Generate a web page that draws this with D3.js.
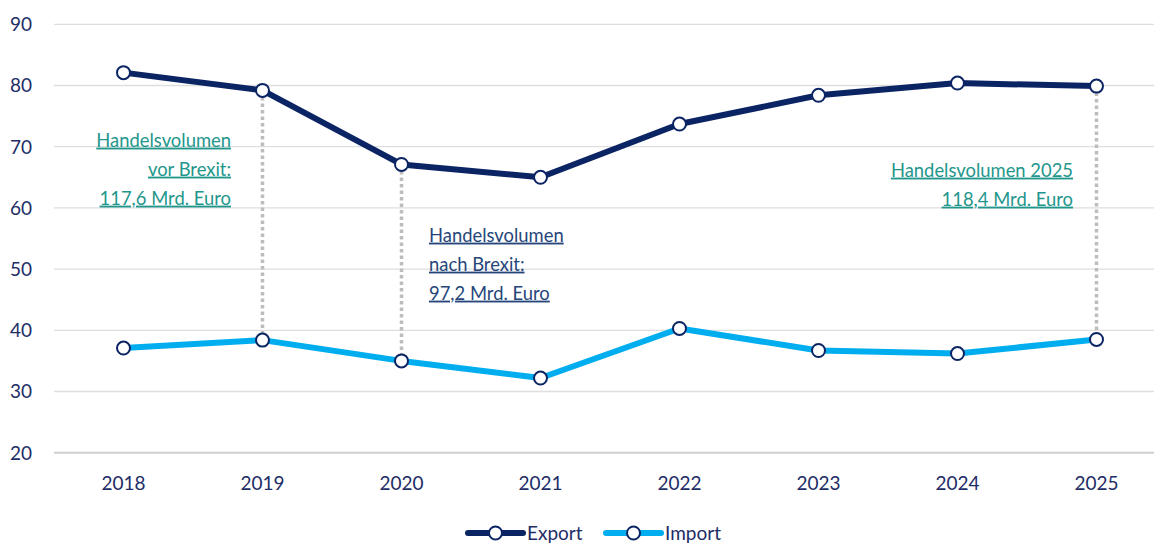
<!DOCTYPE html>
<html>
<head>
<meta charset="utf-8">
<script src="https://cdn.jsdelivr.net/npm/d3@7"></script>
<style>
  body { margin: 0; background: #fff; }
  svg text { font-family: Lato, "Open Sans", sans-serif; }
</style>
</head>
<body>
<div id="chart"></div>
<script>
const years = ["2018", "2019", "2020", "2021", "2022", "2023", "2024", "2025"];
const exportValues = [82.1, 79.2, 67.1, 65.0, 73.7, 78.4, 80.4, 79.9];
const importValues = [37.1, 38.4, 35.0, 32.2, 40.3, 36.7, 36.2, 38.5];
const yTicks = [20, 30, 40, 50, 60, 70, 80, 90];
const dropYears = ["2019", "2020", "2025"];
const notes = [
    { lines: ["Handelsvolumen", "vor Brexit:", "117,6 Mrd. Euro"], x: 231, y: 140, anchor: "end", color: "#23968c" },
    { lines: ["Handelsvolumen", "nach Brexit:", "97,2 Mrd. Euro"], x: 429, y: 235, anchor: "start", color: "#26467a" },
    { lines: ["Handelsvolumen 2025", "118,4 Mrd. Euro"], x: 1073, y: 170, anchor: "end", color: "#23968c" }
];

const width = 1154, height = 545;
const navy = "#0b2463", cyan = "#00aeef", tickColor = "#1e2d66";

const svg = d3.select("#chart").append("svg")
    .attr("width", width)
    .attr("height", height);

const x = d3.scalePoint().domain(years).range([123.5, 1096.5]);
const y = d3.scaleLinear().domain([20, 90]).range([452.7, 24.3]);

// grid
svg.append("g").selectAll("line")
    .data(yTicks)
    .enter()
    .append("line")
    .attr("x1", 54).attr("x2", width)
    .attr("y1", d => y(d)).attr("y2", d => y(d))
    .attr("stroke", d => d == 20 ? "#cfcfcf" : "#dedede")
    .attr("stroke-width", d => d == 20 ? 2 : 1.3);

// y labels
svg.append("g").selectAll("text")
    .data(yTicks)
    .enter()
    .append("text")
    .attr("x", 10)
    .attr("y", d => y(d))
    .attr("dy", "0.36em")
    .attr("font-size", 19)
    .attr("fill", tickColor)
    .text(d => d);

// x labels
svg.append("g").selectAll("text")
    .data(years)
    .enter()
    .append("text")
    .attr("x", d => x(d))
    .attr("y", 483)
    .attr("dy", "0.36em")
    .attr("text-anchor", "middle")
    .attr("font-size", 19)
    .attr("fill", tickColor)
    .text(d => d);

// dotted drops between the series
svg.append("g").selectAll("line")
    .data(dropYears)
    .enter()
    .append("line")
    .attr("x1", d => x(d)).attr("x2", d => x(d))
    .attr("y1", d => y(exportValues[years.indexOf(d)]))
    .attr("y2", d => y(importValues[years.indexOf(d)]))
    .attr("stroke", "#bdbdbd")
    .attr("stroke-width", 3.5)
    .attr("stroke-dasharray", "3.5,3");

const line = d3.line()
    .x((d, i) => x(years[i]))
    .y(d => y(d));

const series = [
    { name: "Export", values: exportValues, color: navy },
    { name: "Import", values: importValues, color: cyan }
];

series.forEach(s => {
    svg.append("path")
        .datum(s.values)
        .attr("fill", "none")
        .attr("stroke", s.color)
        .attr("stroke-width", 6)
        .attr("stroke-linejoin", "round")
        .attr("d", line);
    svg.append("g").selectAll("circle")
        .data(s.values)
        .enter()
        .append("circle")
        .attr("cx", (d, i) => x(years[i]))
        .attr("cy", d => y(d))
        .attr("r", 6.5)
        .attr("fill", "#fff")
        .attr("stroke", navy)
        .attr("stroke-width", 2);
});

// annotations
notes.forEach(n => {
    const g = svg.append("g");
    n.lines.forEach((t, i) => {
        g.append("text")
            .attr("x", n.x)
            .attr("y", n.y + i * 29)
            .attr("dy", "0.36em")
            .attr("text-anchor", n.anchor)
            .attr("font-size", 18.4)
            .attr("fill", n.color)
            .attr("text-decoration", "underline")
            .text(t);
    });
});

// legend
const legend = svg.append("g").attr("transform", "translate(0,533)");
const legendItems = [
    { name: "Export", color: navy, x: 468 },
    { name: "Import", color: cyan, x: 606 }
];
legendItems.forEach(l => {
    legend.append("line")
        .attr("x1", l.x).attr("x2", l.x + 55)
        .attr("stroke", l.color)
        .attr("stroke-width", 6)
        .attr("stroke-linecap", "round");
    legend.append("circle")
        .attr("cx", l.x + 27.5)
        .attr("r", 6.5)
        .attr("fill", "#fff")
        .attr("stroke", navy)
        .attr("stroke-width", 2);
    legend.append("text")
        .attr("x", l.x + 59)
        .attr("dy", "0.36em")
        .attr("font-size", 19)
        .attr("fill", tickColor)
        .text(l.name);
});
</script>
</body>
</html>
